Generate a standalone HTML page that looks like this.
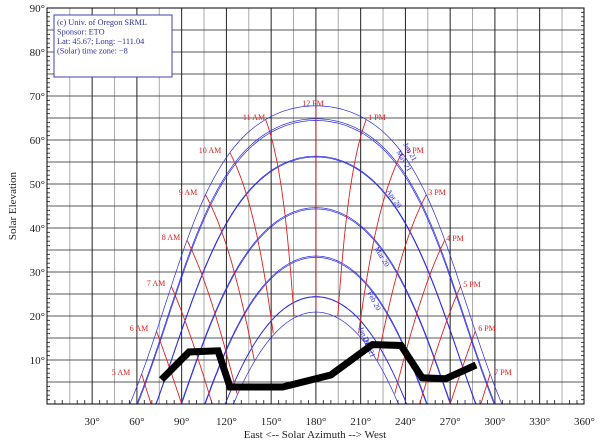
<!DOCTYPE html>
<html><head><meta charset="utf-8"><style>
html,body{margin:0;padding:0;background:#fff;width:600px;height:441px;overflow:hidden}
svg{display:block}
</style></head><body>
<svg id="s" width="600" height="441" xmlns="http://www.w3.org/2000/svg" font-family="Liberation Serif, serif">
<rect width="600" height="441" fill="#fff"/>
<g id="grid"></g>
<g id="curves"></g>
<g id="labels" font-size="8" fill="#e02020"></g>
<g id="mlab" font-size="7.5" fill="#2020e0"></g>
<polyline points="161.5,379.6 189,352 218,350.8 230,387 282.7,387 330.8,375 372.3,344.6 401,345.5 422,377.7 445.4,378.8 476,365" fill="none" stroke="#000" stroke-width="7" stroke-linejoin="miter"/>
<rect x="47" y="8" width="537" height="396" fill="none" stroke="#000" stroke-width="1"/>
<rect x="54" y="15" width="118" height="62" fill="#fff" stroke="#4040b0" stroke-width="1"/>
<g font-size="8.3" fill="#3030a0">
<text x="57" y="25">(c) Univ. of Oregon SRML</text>
<text x="57" y="34.5">Sponsor: ETO</text>
<text x="57" y="44">Lat: 45.67; Long: −111.04</text>
<text x="57" y="53.5">(Solar) time zone: −8</text>
</g>
<g id="axl" font-size="11" fill="#222"></g>
<text transform="translate(16,206) rotate(-90)" text-anchor="middle" font-size="11" fill="#222">Solar Elevation</text>
<text x="315" y="438" text-anchor="middle" font-size="11" fill="#222">East &lt;-- Solar Azimuth --&gt; West</text>
</svg>
<script>
var NS="http://www.w3.org/2000/svg";
function el(p,t,a,txt){var e=document.createElementNS(NS,t);for(var k in a)e.setAttribute(k,a[k]);if(txt)e.textContent=txt;document.getElementById(p).appendChild(e);return e;}
var X0=47.4,PX=1.4917,Y0=404,PY=4.4;
function X(a){return X0+a*PX}function Y(e){return Y0-e*PY}
for(var a=15;a<360;a+=15){el("grid","line",{x1:X(a),y1:8,x2:X(a),y2:404,stroke:(a%30==15)?"#aaa":"#222","stroke-width":1});}
for(var e=5;e<90;e+=5){el("grid","line",{x1:47,y1:Y(e),x2:584,y2:Y(e),stroke:"#222","stroke-width":0.8});}
for(var e=1;e<90;e++){var L=(e%5==0)?0:3;if(L){el("grid","line",{x1:47,y1:Y(e),x2:47+L,y2:Y(e),stroke:"#444"});el("grid","line",{x1:584-L,y1:Y(e),x2:584,y2:Y(e),stroke:"#444"});}}
for(var a=5;a<360;a+=5){if(a%15)el("grid","line",{x1:X(a),y1:404,x2:X(a),y2:400,stroke:"#444"});}
for(var e=10;e<=90;e+=10)el("axl","text",{x:45,y:Y(e)+4,"text-anchor":"end"},e+"°");
for(var a=30;a<=360;a+=30)el("axl","text",{x:X(a),y:425,"text-anchor":"middle"},a+"°");
var lat=45.67*Math.PI/180,D=Math.PI/180;
function sun(dec,ha){dec*=D;ha*=D;var s=Math.sin(lat)*Math.sin(dec)+Math.cos(lat)*Math.cos(dec)*Math.cos(ha);var h=Math.asin(s);
var az=Math.atan2(Math.sin(ha),Math.cos(ha)*Math.sin(lat)-Math.tan(dec)*Math.cos(lat));var A=az/D+180;return [A,h/D];}
function path(pts){var d="",on=false;pts.forEach(function(p){if(p[1]>=-0.5){d+=(on?"L":"M")+X(p[0]).toFixed(1)+","+Y(Math.max(p[1],0)).toFixed(1);on=true;}else on=false;});return d;}
var decs=[-20.0,-11.0,0.0,11.8,20.1,23.44,20.5,12.0,0.3,-10.7,-19.9,-23.44];
decs.forEach(function(dc){var p=[];for(var h=-130;h<=130;h+=1)p.push(sun(dc,h));el("curves","path",{d:path(p),fill:"none",stroke:"#2a2ae0","stroke-width":0.7});});
for(var hr=5;hr<=19;hr++){var ha=(hr-12)*15;var p=[];for(var dc=23.44;dc>=-23.44;dc-=0.5)p.push(sun(dc,ha));el("curves","path",{d:path(p),fill:"none",stroke:"#e02020","stroke-width":0.9});}
var hl=[["5 AM",121,372],["6 AM",139,328],["7 AM",156,283],["8 AM",171,237],["9 AM",188,192],["10 AM",210,150],["11 AM",254,117],["12 PM",313,103],["1 PM",377,117],["2 PM",415,150],["3 PM",437,192],["4 PM",455,238],["5 PM",472,284],["6 PM",487,328],["7 PM",503,372]];
hl.forEach(function(h){el("labels","text",{x:h[1],y:h[2]+3,"text-anchor":"middle"},h[0]);});
var ml=[["Jun 21",408,153,60],["May 21",402,162,60],["Apr 20",392,200,55],["Mar 20",380,258,58],["Feb 20",372,302,62],["Jan 21",362,337,68],["Dec 21",367,348,68]];
ml.forEach(function(m){el("mlab","text",{x:m[1],y:m[2],"text-anchor":"middle",transform:"rotate("+m[3]+" "+m[1]+" "+m[2]+")"},m[0]);});
</script>
</body></html>
